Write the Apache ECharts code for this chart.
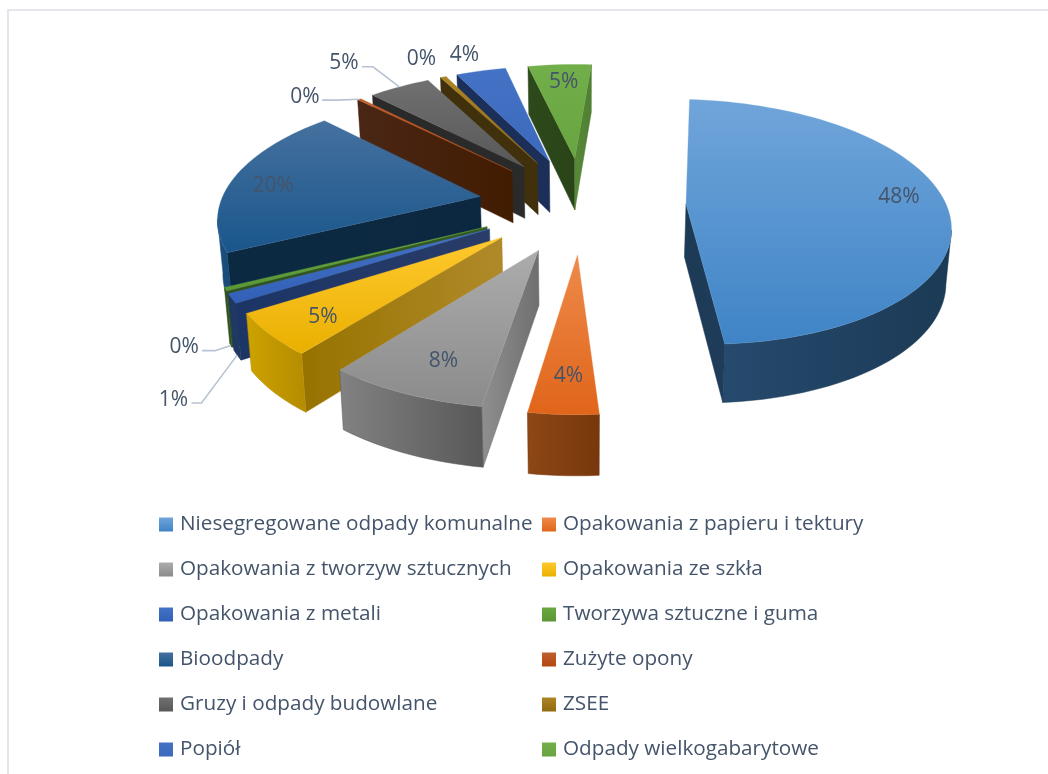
<!DOCTYPE html>
<html lang="pl"><head><meta charset="utf-8"><title>Odpady</title>
<style>html,body{margin:0;padding:0;background:#fff}#c{width:1048px;height:774px}</style>
<script src="https://cdn.jsdelivr.net/npm/echarts@6/dist/echarts.min.js"></script>
</head><body><div id="c"></div>
<script>
const categories = ['Niesegregowane odpady komunalne','Opakowania z papieru i tektury','Opakowania z tworzyw sztucznych','Opakowania ze szkła','Opakowania z metali','Tworzywa sztuczne i guma','Bioodpady','Zużyte opony','Gruzy i odpady budowlane','ZSEE','Popiół','Odpady wielkogabarytowe'];
const values = [47.72,3.53,8.17,5.39,1.2,0.44,19.89,0.28,4.56,0.44,3.69,4.69];

// styling: [top light, top dark], outer wall, start wall, end wall
const palette = [
 {top:['#70a5da','#3f84c6'],outer:['#264a6e','#1b3a55'],start:['#1f3c58','#1f3c58'],end:['#1c3a54','#1f3d5a']},
 {top:['#ee8a4a','#e0651a'],outer:['#8e4716','#77370c'],start:['#b5581c','#a04c18'],end:['#8e4716','#8e4716']},
 {top:['#acacac','#8b8b8b'],outer:['#828282','#585858'],start:['#8f8f8f','#6f6f6f'],end:['#6f6f6f','#6f6f6f']},
 {top:['#ffc92e','#e9b000'],outer:['#cda200','#b48c00'],start:['#967300','#b08a2a'],end:['#b48c00','#b48c00']},
 {top:['#4472c4','#3260b8'],outer:['#1f3864','#1f3864'],start:['#1b3566','#2a3c68'],end:['#1f3864','#1f3864']},
 {top:['#69a83f','#5a9635'],outer:['#2f5020','#2f5020'],start:['#2f5020','#355a22'],end:['#2f5020','#2f5020']},
 {top:['#45719f','#1a568b'],outer:['#1a5080','#174a78'],start:['#0b2a42','#0c2840'],end:['#0b2a42','#0b2a42']},
 {top:['#c05f30','#b2480f'],outer:['#4a2616','#4a2616'],start:['#4a2616','#421c00'],end:['#4a2616','#421c00']},
 {top:['#707070','#585858'],outer:['#2a2a2a','#2a2a2a'],start:['#2a2a2a','#2a2a2a'],end:['#2e2e2e','#262626']},
 {top:['#ad8426','#926a10'],outer:['#40310c','#40310c'],start:['#40310c','#40310c'],end:['#4a3a14','#3a2c04']},
 {top:['#4472c4','#3c69bd'],outer:['#1b2f58','#1b2f58'],start:['#1b2f58','#1b2f58'],end:['#1e3460','#1a2e56']},
 {top:['#72ae49','#68a440'],outer:['#548235','#548235'],start:['#2d4a1c','#2a4418'],end:['#578a38','#4f7f32']}
];
// label offset from each slice's apex; leader = two offsets from the label plus rim end
const labelOffset = [[211,-10],[-11,119],[-97,108],[-181,77],[-318,169],[-305,118],[-209,-13],[-209,-77],[-182,-106],[-118,-107],[-87,-109],[-13,-79]];
const labelNudge = [2,2.5];
const leaders = {4:{pts:[[20,5],[30,5]],z:1},5:{pts:[[20,6],[33,6]],z:1},7:{pts:[[19,6],[34,6]],z:0},8:{pts:[[20,6],[31,6]],z:0}};

const VIEW = {cx:582,cy:204,Rx:260,Ry:120,k:0.145,depth:53,depthPersp:0.6,shrink:0.985,explode:0.4,startAngle:4.2};
const rad = d => d*Math.PI/180;
const total = values.reduce((a,b)=>a+b,0);
const spans = []; { let a = VIEW.startAngle; values.forEach(v=>{const e=a+v/total*360; spans.push([a,e]); a=e;}); }
function project(u,v,z){
  const s = 1/(1-VIEW.k*v);
  const f = 1+(VIEW.shrink-1)*z;
  return [VIEW.cx+VIEW.Rx*u*s*f, VIEW.cy+VIEW.Ry*v*s+VIEW.depth*(1+(s-1)*VIEW.depthPersp)*z];
}
function slice(i){
  const [a0,a1]=spans[i], b=(a0+a1)/2;
  const ox=VIEW.explode*Math.sin(rad(b)), oy=-VIEW.explode*Math.cos(rad(b));
  const rim=[]; const n=Math.max(2,Math.ceil((a1-a0)/2));
  for(let j=0;j<=n;j++){const t=a0+(a1-a0)*j/n; rim.push([ox+Math.sin(rad(t)),oy-Math.cos(rad(t))]);}
  return {b,ox,oy,rim};
}
const grad=(c,v)=>new echarts.graphic.LinearGradient(0,0,v?0:1,v?1:0,[{offset:0,color:c[0]},{offset:1,color:c[1]}]);
function visible(A,B,C){
  const ex=B[0]-A[0], ey=B[1]-A[1];
  const downSide=ex*1;                        // cross(e,(0,1))
  const solidSide=ex*(C[1]-A[1])-ey*(C[0]-A[0]);
  return downSide*solidSide<0;
}
function renderSlice(i){
  const S=slice(i), p=palette[i], kids=[];
  const apex=[S.ox,S.oy];
  const T=q=>project(q[0],q[1],0), Bt=q=>project(q[0],q[1],1);
  const topPts=[apex].concat(S.rim).map(T);
  const C=[0,1].map(k=>topPts.reduce((s,q)=>s+q[k],0)/topPts.length);
  const wall=(pts,c)=>kids.push({type:'polygon',shape:{points:pts},style:{fill:grad(c,false),stroke:c[1],lineWidth:0.5}});
  const f=S.rim[0], l=S.rim[S.rim.length-1];
  if(visible(T(apex),T(f),C)) wall([T(apex),T(f),Bt(f),Bt(apex)],p.start);
  if(visible(T(apex),T(l),C)) wall([T(apex),T(l),Bt(l),Bt(apex)],p.end);
  const run=[];
  for(let j=0;j<S.rim.length-1;j++){
    if(visible(T(S.rim[j]),T(S.rim[j+1]),C)){ if(!run.length) run.push(S.rim[j]); run.push(S.rim[j+1]); }
  }
  if(run.length) wall(run.map(T).concat(run.slice().reverse().map(Bt)),p.outer);
  kids.push({type:'polygon',shape:{points:topPts},style:{fill:grad(p.top,true),stroke:p.top[0],lineWidth:0.3}});
  const A=T(apex), lp=[A[0]+labelOffset[i][0],A[1]+labelOffset[i][1]];
  const ld=leaders[i];
  if(ld){
    const m=[S.ox+Math.sin(rad(S.b)),S.oy-Math.cos(rad(S.b))];
    const pts=ld.pts.map(o=>[lp[0]+o[0],lp[1]+o[1]]).concat([project(m[0],m[1],ld.z)]);
    kids.push({type:'polyline',z2:50,shape:{points:pts},style:{stroke:'#b7c3d2',lineWidth:1.6,fill:null}});
  }
  kids.push({type:'text',z2:60,x:lp[0]+labelNudge[0],y:lp[1]+labelNudge[1],style:{text:Math.round(values[i]/total*100)+'%',fill:'#44546a',font:'21px "Open Sans"',textAlign:'center',textVerticalAlign:'middle'}});
  return {type:'group',children:kids};
}
// paint far slices first
const order=categories.map((_,i)=>i).sort((a,b)=>slice(a).oy-slice(b).oy);
const series=categories.map((name,i)=>({
  type:'custom',name,coordinateSystem:'none',z:2+order.indexOf(i),clip:false,silent:true,
  data:[[values[i]]],itemStyle:{color:palette[i].top[1]},
  renderItem:()=>renderSlice(i)
}));
const legendItem=i=>({name:categories[i],icon:'rect',itemStyle:{color:grad(palette[i].top,true)}});
const legendBase={orient:'vertical',selectedMode:false,padding:0,itemWidth:14,itemHeight:14,itemGap:24,top:514,
  textStyle:{fontFamily:'Open Sans',fontSize:20.7,lineHeight:21,color:'#44546a',padding:[0,0,0,2]},formatter:n=>n};
const col=r=>categories.map((_,i)=>i).filter(i=>i%2===r).map(legendItem);
const chart=echarts.init(document.getElementById('c'),null,{renderer:'canvas'});
chart.setOption({
  animation:false,backgroundColor:'#fff',
  legend:[Object.assign({left:159,data:col(0)},legendBase),Object.assign({left:542,data:col(1)},legendBase)],
  graphic:[{type:'rect',shape:{x:8,y:10,width:1200,height:900},style:{fill:null,stroke:'#e3e6ec',lineWidth:2},silent:true}],
  series
});
</script></body></html>
